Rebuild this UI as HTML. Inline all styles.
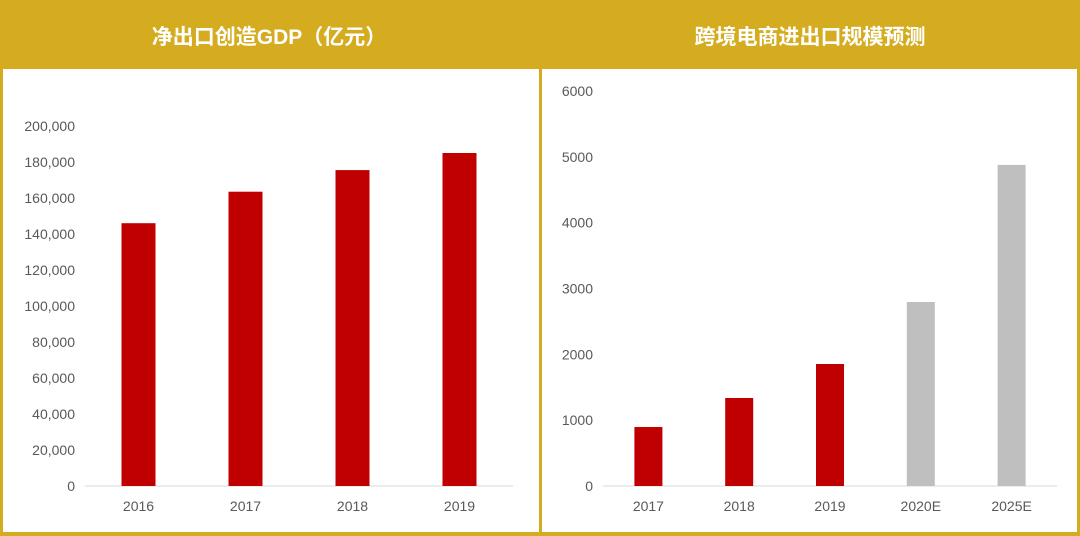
<!DOCTYPE html>
<html><head><meta charset="utf-8"><style>
body{margin:0;width:1080px;height:536px;overflow:hidden;background:#fff;font-family:"Liberation Sans","Noto Sans CJK SC",sans-serif}
svg{display:block}
</style></head><body>
<svg width="1080" height="536">
<rect x="0" y="0" width="1080" height="536" fill="#D5AC20"/>
<rect x="3" y="69" width="536" height="463" fill="#fff"/>
<rect x="542" y="69" width="535" height="463" fill="#fff"/>
<text x="269" y="44" text-anchor="middle" fill="#fff" font-size="21" font-weight="bold">净出口创造GDP（亿元）</text>
<text x="810" y="44" text-anchor="middle" fill="#fff" font-size="21" font-weight="bold">跨境电商进出口规模预测</text>
<g id="left"></g><g id="right"></g>
</svg>
<script>
const leftCats=["2016","2017","2018","2019"];
const leftVals=[146000,163500,175500,185000];
const leftTicks=[0,20000,40000,60000,80000,100000,120000,140000,160000,180000,200000];
const rightCats=["2017","2018","2019","2020E","2025E"];
const rightVals=[896,1337,1853,2795,4877];
const rightTicks=[0,1000,2000,3000,4000,5000,6000];
const rightColors=["#C00000","#C00000","#C00000","#BFBFBF","#BFBFBF"];
const NS="http://www.w3.org/2000/svg";
function mk(g,tag,a,txt){const e=document.createElementNS(NS,tag);for(const k in a)e.setAttribute(k,a[k]);if(txt!==undefined)e.textContent=txt;g.appendChild(e);return e;}
function draw(gid,cats,vals,ticks,max,x0,x1,y0,yTop,bw,colors,fmt,labelX){
  const g=document.getElementById(gid);
  const y=v=>y0-(v/max)*(y0-yTop);
  const step=(x1-x0)/cats.length;
  const xc=i=>x0+step*(i+0.5);
  ticks.forEach(t=>{const e=mk(g,"text",{x:labelX,y:y(t)+5,"text-anchor":"end","font-size":"14",fill:"#595959"},fmt(t));
    
    });
  const ax=mk(g,"line",{x1:x0,x2:x1,y1:y0,y2:y0,stroke:"#D9D9D9","stroke-width":1});
  
  
  cats.forEach((c,i)=>{
    const r=mk(g,"rect",{x:xc(i)-bw/2,y:y(vals[i]),width:bw,height:y0-y(vals[i]),fill:colors[i]});
    
    
    const t=mk(g,"text",{x:xc(i),y:y0+25,"text-anchor":"middle","font-size":"14",fill:"#595959"},c);
    
    
  });
}
draw("left",leftCats,leftVals,leftTicks,200000,85,513,486,126,34,leftCats.map(()=>"#C00000"),t=>t.toLocaleString("en-US"),75);
draw("right",rightCats,rightVals,rightTicks,6000,603,1057,486,91,28,rightColors,t=>String(t),593);
</script>
</body></html>
